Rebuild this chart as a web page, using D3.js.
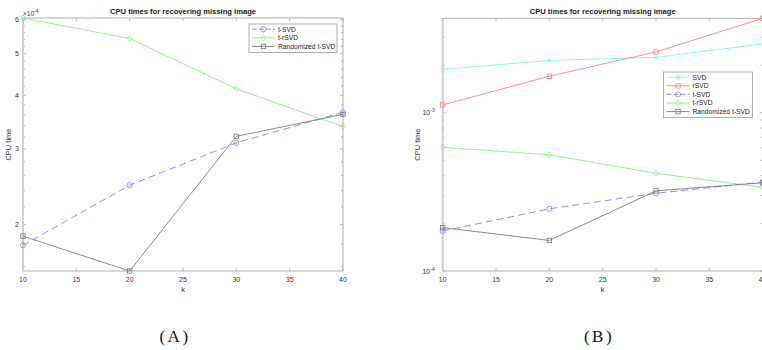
<!DOCTYPE html>
<html>
<head>
<meta charset="utf-8">
<script src="https://cdn.jsdelivr.net/npm/d3@7"></script>
<style>
  body { margin: 0; background: #fff; }
  text { font-family: "Liberation Sans", Arial, sans-serif; }
  text.caption { font-family: "Liberation Serif", "DejaVu Serif", serif; }
</style>
</head>
<body>
<div id="chart"></div>
<script>
// CPU times (seconds)
const kValues = [10, 20, 30, 40];
const svdTimes = [1.88e-3, 2.14e-3, 2.24e-3, 2.72e-3];
const rsvdTimes = [1.12e-3, 1.70e-3, 2.42e-3, 3.95e-3];
const tsvdTimes = [1.79e-4, 2.47e-4, 3.10e-4, 3.65e-4];
const trsvdTimes = [6.05e-4, 5.42e-4, 4.14e-4, 3.38e-4];
const randTsvdTimes = [1.88e-4, 1.56e-4, 3.21e-4, 3.61e-4];

const xTicks = [10, 15, 20, 25, 30, 35, 40];
const leftYTicks = [2e-4, 3e-4, 4e-4, 5e-4, 6e-4];
const rightYTicks = [1e-4, 1e-3];

const titleText = "CPU times for recovering missing image";

const seriesStyle = {
    "SVD": { color: "#7ff7f7", marker: "star", dash: null },
    "rSVD": { color: "#ff8080", marker: "square", dash: null },
    "t-SVD": { color: "#8080ff", marker: "circle", dash: "7,4" },
    "t-rSVD": { color: "#80f080", marker: "diamond", dash: null },
    "Randomized t-SVD": { color: "#7a7a7a", marker: "square", dash: null }
};

const svg = d3.select("#chart").append("svg")
    .attr("width", 762).attr("height", 350)
    .style("display", "block");

function drawMarker(g, type, x, y, color) {
    if (type === "circle") {
        g.append("circle").attr("cx", x).attr("cy", y).attr("r", 2.6)
            .attr("fill", "none").attr("stroke", color).attr("stroke-width", 0.8);
    } else if (type === "square") {
        g.append("rect").attr("x", x - 2.2).attr("y", y - 2.2).attr("width", 4.4).attr("height", 4.4)
            .attr("fill", "none").attr("stroke", color).attr("stroke-width", 0.8);
    } else if (type === "diamond") {
        g.append("path").attr("d", `M${x},${y - 3}L${x + 2.6},${y}L${x},${y + 3}L${x - 2.6},${y}Z`)
            .attr("fill", "none").attr("stroke", color).attr("stroke-width", 0.8);
    } else if (type === "star") {
        const r = 2.6;
        const p = [];
        for (let a = 0; a < 180; a += 45) {
            const t = a * Math.PI / 180;
            p.push(`M${x - r * Math.cos(t)},${y - r * Math.sin(t)}L${x + r * Math.cos(t)},${y + r * Math.sin(t)}`);
        }
        g.append("path").attr("d", p.join("")).attr("stroke", color).attr("stroke-width", 0.8);
    }
}

function drawPanel(opt) {
    const x = d3.scaleLinear().domain([10, 40]).range([opt.left, opt.right]);
    const y = d3.scaleLog().domain(opt.yDomain).range([opt.bottom, opt.top]);
    const g = svg.append("g");

    // ticks (inside, both sides)
    const tickLen = 3;
    xTicks.forEach(v => {
        g.append("line").attr("x1", x(v)).attr("x2", x(v)).attr("y1", opt.bottom).attr("y2", opt.bottom - tickLen)
            .attr("stroke", "#999").attr("stroke-width", 0.7);
        g.append("line").attr("x1", x(v)).attr("x2", x(v)).attr("y1", opt.top).attr("y2", opt.top + tickLen)
            .attr("stroke", "#999").attr("stroke-width", 0.7);
        g.append("text").attr("x", x(v)).attr("y", opt.bottom + 10.5)
            .attr("text-anchor", "middle").attr("font-size", 7).attr("fill", "#333").text(v);
    });
    const allY = opt.majorY.concat(opt.minorY);
    allY.forEach(v => {
        const len = opt.majorY.includes(v) ? tickLen : 2;
        g.append("line").attr("x1", opt.left).attr("x2", opt.left + len).attr("y1", y(v)).attr("y2", y(v))
            .attr("stroke", "#999").attr("stroke-width", 0.7);
        g.append("line").attr("x1", opt.right).attr("x2", opt.right - len).attr("y1", y(v)).attr("y2", y(v))
            .attr("stroke", "#999").attr("stroke-width", 0.7);
    });
    opt.majorY.forEach(v => opt.yLabel(g, opt.left - 4, y(v), v));

    // box
    g.append("rect").attr("x", opt.left).attr("y", opt.top)
        .attr("width", opt.right - opt.left).attr("height", opt.bottom - opt.top)
        .attr("fill", "none").attr("stroke", "#9a9a9a").attr("stroke-width", 0.8);
    g.append("line").attr("x1", opt.left).attr("x2", opt.left).attr("y1", opt.top).attr("y2", opt.bottom)
        .attr("stroke", "#cfcfcf").attr("stroke-width", 2);

    // series
    const line = d3.line().x((d, i) => x(kValues[i])).y(d => y(d));
    opt.series.forEach(s => {
        const st = seriesStyle[s.name];
        g.append("path").attr("d", line(s.values)).attr("fill", "none")
            .attr("stroke", st.color).attr("stroke-width", 0.9)
            .attr("stroke-dasharray", st.dash);
        s.values.forEach((v, i) => drawMarker(g, st.marker, x(kValues[i]), y(v), st.color));
    });

    // title and axis labels
    g.append("text").attr("x", (opt.left + opt.right) / 2).attr("y", opt.top - 4)
        .attr("text-anchor", "middle").attr("font-size", 7.6).attr("font-weight", "bold")
        .attr("fill", "#222").text(titleText);
    g.append("text").attr("x", (opt.left + opt.right) / 2).attr("y", opt.bottom + 20.5)
        .attr("text-anchor", "middle").attr("font-size", 7.5).attr("fill", "#333").text("k");
    g.append("text").attr("transform", `translate(${opt.yTitleX},${(opt.top + opt.bottom) / 2}) rotate(-90)`)
        .attr("text-anchor", "middle").attr("font-size", 7.5).attr("fill", "#333").text("CPU time");

    // legend
    const lg = g.append("g");
    lg.append("rect").attr("x", opt.legend.x).attr("y", opt.legend.y)
        .attr("width", opt.legend.w).attr("height", opt.legend.h)
        .attr("fill", "#fff").attr("stroke", "#9a9a9a").attr("stroke-width", 0.8);
    opt.series.forEach((s, i) => {
        const st = seriesStyle[s.name];
        const ly = opt.legend.y + 5.2 + i * 8.6;
        const lx = opt.legend.x + 3;
        lg.append("line").attr("x1", lx).attr("x2", lx + 23).attr("y1", ly).attr("y2", ly)
            .attr("stroke", st.color).attr("stroke-width", 0.9).attr("stroke-dasharray", st.dash ? "5,2" : null);
        drawMarker(lg, st.marker, lx + 11.5, ly, st.color);
        lg.append("text").attr("x", lx + 26).attr("y", ly + 2.4)
            .attr("font-size", 6.7).attr("fill", "#222").text(s.name);
    });
    return g;
}

// Panel A: linear-labelled log axis with x10^-4 multiplier
const panelA = drawPanel({
    left: 23, right: 343, top: 18, bottom: 271,
    yDomain: [d3.min(randTsvdTimes), d3.max(trsvdTimes)],
    majorY: leftYTicks,
    minorY: d3.range(16, 61, 2).map(v => v * 1e-5).filter(v => !leftYTicks.some(t => Math.abs(t - v) < 1e-9)),
    yLabel: (g, x, y, v) => g.append("text").attr("x", x).attr("y", y + 2.5)
        .attr("text-anchor", "end").attr("font-size", 7).attr("fill", "#333").text(Math.round(v * 1e4)),
    yTitleX: 11,
    legend: { x: 249, y: 24, w: 88, h: 28.5 },
    series: [
        { name: "t-SVD", values: tsvdTimes },
        { name: "t-rSVD", values: trsvdTimes },
        { name: "Randomized t-SVD", values: randTsvdTimes }
    ]
});
const expText = panelA.append("text").attr("x", 23).attr("y", 15.5).attr("font-size", 6.5).attr("fill", "#333");
expText.append("tspan").text("\u00d710");
expText.append("tspan").attr("dy", -3).attr("font-size", 5).text("-4");

// Panel B: decade labels
const rightMinor = [];
[1e-4, 1e-3].forEach(d => d3.range(2, 10).forEach(m => rightMinor.push(m * d)));
drawPanel({
    left: 442.7, right: 762.7, top: 18.3, bottom: 271,
    yDomain: [1e-4, d3.max(rsvdTimes)],
    majorY: rightYTicks,
    minorY: rightMinor.filter(v => v < d3.max(rsvdTimes)),
    yLabel: (g, x, y, v) => {
        const t = g.append("text").attr("x", x - 4).attr("y", y + 2.5)
            .attr("text-anchor", "end").attr("font-size", 7).attr("fill", "#333");
        t.append("tspan").text("10");
        t.append("tspan").attr("dy", -3).attr("font-size", 5).text(Math.round(Math.log10(v)));
    },
    yTitleX: 420,
    legend: { x: 663.5, y: 72, w: 89, h: 45.5 },
    series: [
        { name: "SVD", values: svdTimes },
        { name: "rSVD", values: rsvdTimes },
        { name: "t-SVD", values: tsvdTimes },
        { name: "t-rSVD", values: trsvdTimes },
        { name: "Randomized t-SVD", values: randTsvdTimes }
    ]
});

// sub-figure captions
[["(A)", 175], ["(B)", 599]].forEach(([label, cx]) => {
    svg.append("text").attr("class", "caption").attr("x", cx).attr("y", 341.5).attr("text-anchor", "middle")
        .attr("font-size", 17).attr("letter-spacing", 2.5).attr("fill", "#111").text(label);
});
</script>
</body>
</html>
